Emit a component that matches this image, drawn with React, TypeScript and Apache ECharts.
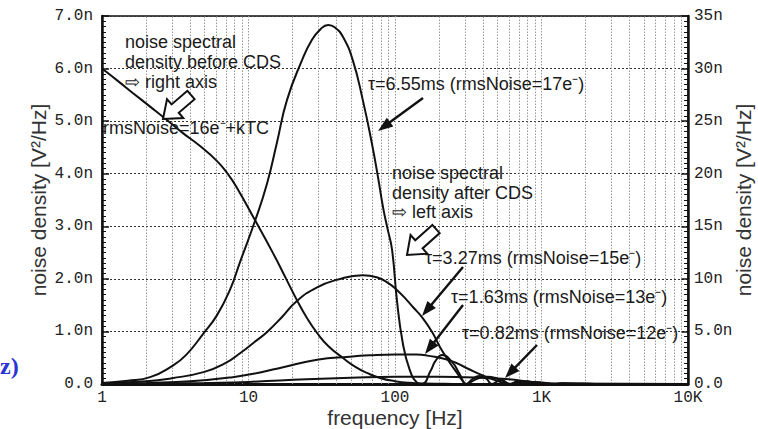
import React, { useEffect, useRef } from "react";
import * as echarts from "echarts";

// ---- data ----
// before CDS (right axis, nV^2/Hz)
const freqBefore = [1, 1.3, 1.63, 2.13, 2.8, 3.57, 4.6, 6.1, 7.2, 8.35, 11.07, 14.7, 18, 21.4, 25, 29.4, 35, 44.2, 54, 64.4, 80, 100, 125, 160, 250, 400, 10000];
const valBefore = [30, 28.76, 27.66, 26.38, 25.06, 23.86, 22.7, 21.2, 20.0, 18.65, 15.59, 12.45, 10.05, 7.98, 6.3, 4.85, 3.62, 2.47, 1.6, 1.05, 0.55, 0.27, 0.11, 0.04, 0.01, 0, 0];

// tau = 6.55 ms (left axis)
const freqT655 = [1, 1.5, 2.13, 3, 3.74, 4.89, 6.1, 7.47, 8.75, 11.07, 13.4, 15.6, 18.3, 23.2, 27, 31, 35, 39, 44.2, 51.5, 60.3, 69.5, 76.5, 83, 89, 95.5, 103, 113, 126, 141, 153, 175, 190, 210, 245, 275, 306, 340, 375, 420, 458, 530, 611, 690, 763, 840, 916, 1200, 10000];
const valT655 = [0.02, 0.06, 0.13, 0.34, 0.55, 0.95, 1.31, 1.79, 2.32, 3.1, 3.82, 4.58, 5.4, 6.16, 6.54, 6.75, 6.83, 6.78, 6.6, 6.16, 5.4, 4.58, 3.94, 3.35, 2.95, 2.55, 1.6, 0.78, 0.27, 0.03, 0, 0.25, 0.45, 0.55, 0.42, 0.2, 0, 0.1, 0.15, 0.1, 0, 0.08, 0, 0.05, 0, 0.03, 0, 0.01, 0];

// tau = 3.27 ms (left axis)
const freqT327 = [1, 2, 3, 5, 7, 8.8, 11, 13.4, 17, 21.4, 29.4, 40, 60, 75, 90, 103, 120, 133, 155, 180, 203, 240, 265, 290, 306, 340, 380, 430, 480, 540, 612, 700, 800, 916, 1000, 1224, 1400, 1530, 10000];
const valT327 = [0.01, 0.05, 0.11, 0.23, 0.4, 0.59, 0.8, 0.99, 1.28, 1.58, 1.84, 1.98, 2.07, 2.03, 1.92, 1.79, 1.6, 1.46, 1.25, 0.98, 0.7, 0.38, 0.21, 0.06, 0, 0.06, 0.12, 0.14, 0.12, 0.06, 0, 0.04, 0.05, 0, 0.02, 0, 0.015, 0, 0];

// tau = 1.63 ms (left axis)
const freqT163 = [1, 2, 4, 7.8, 12, 17.2, 29.4, 49, 67, 100, 140, 166, 236, 310, 400, 500, 550, 613, 700, 850, 1000, 1226, 1500, 1840, 10000];
const valT163 = [0, 0.02, 0.05, 0.13, 0.22, 0.32, 0.46, 0.52, 0.545, 0.56, 0.56, 0.54, 0.45, 0.3, 0.16, 0.06, 0.02, 0, 0.02, 0.04, 0.03, 0, 0.01, 0, 0];

// tau = 0.82 ms (left axis)
const freqT082 = [1, 3, 5, 10, 25, 50, 100, 200, 300, 450, 600, 800, 1000, 1220, 1500, 1900, 2440, 10000];
const valT082 = [0, 0.01, 0.02, 0.04, 0.09, 0.12, 0.14, 0.14, 0.13, 0.11, 0.09, 0.05, 0.02, 0, 0.01, 0.01, 0, 0];

// minor vertical grid positions
const minorGridFreqs = [2, 3, 4, 5, 6, 7, 8, 9, 20, 30, 40, 50, 60, 70, 80, 90, 200, 300, 400, 500, 600, 700, 800, 900, 2000, 3000, 4000, 5000, 6000, 7000, 8000, 9000];

const xTickLabels: Record<number, string> = { 1: "1", 10: "10", 100: "100", 1000: "1K", 10000: "10K" };

const zip = (f: number[], v: number[]) => f.map((x, i) => [x, v[i]]);

const TXT = "#1a1a1a";
const SANS = "Liberation Sans, Arial, Helvetica, sans-serif";
const MONO = "Liberation Mono, Courier New, monospace";

function thinArrow(x1: number, y1: number, x2: number, y2: number) {
  const dx = x2 - x1, dy = y2 - y1;
  const len = Math.hypot(dx, dy);
  const ux = dx / len, uy = dy / len;
  const nx = -uy, ny = ux;
  const hl = 15, hw = 5.5;
  const bx = x2 - ux * hl, by = y2 - uy * hl;
  return [
    { type: "line", shape: { x1, y1, x2: bx + ux * 2, y2: by + uy * 2 }, style: { stroke: "#111", lineWidth: 2.4 }, z: 100 },
    { type: "polygon", shape: { points: [[x2, y2], [bx + nx * hw, by + ny * hw], [bx - nx * hw, by - ny * hw]] }, style: { fill: "#111" }, z: 100 },
  ];
}

function blockArrow(tx: number, ty: number, px: number, py: number) {
  const dx = px - tx, dy = py - ty;
  const len = Math.hypot(dx, dy);
  const ux = dx / len, uy = dy / len;
  const nx = -uy, ny = ux;
  const sw = 5.5, hw = 12.5, hl = 16;
  const kx = px - ux * hl, ky = py - uy * hl;
  const pts = [
    [tx + nx * sw, ty + ny * sw],
    [kx + nx * sw, ky + ny * sw],
    [kx + nx * hw, ky + ny * hw],
    [px, py],
    [kx - nx * hw, ky - ny * hw],
    [kx - nx * sw, ky - ny * sw],
    [tx - nx * sw, ty - ny * sw],
  ];
  return { type: "polygon", shape: { points: pts }, style: { fill: "#fff", stroke: "#111", lineWidth: 2 }, z: 100 };
}

function label(text: string, x: number, y: number, size = 18) {
  return { type: "text", x, y, z: 100, style: { text, fill: TXT, font: `${size}px ${SANS}`, align: "left", verticalAlign: "middle" } };
}

export default function App() {
  const ref = useRef<HTMLDivElement>(null);
  useEffect(() => {
    document.body.style.margin = "0";
    const chart = echarts.init(ref.current!, null, { renderer: "svg" });
    const lineSeries = (name: string, data: number[][], yAxisIndex = 0) => ({
      name,
      type: "line",
      data,
      yAxisIndex,
      showSymbol: false,
      smooth: 0.5,
      lineStyle: { color: "#111", width: 2 },
      z: 5,
    });
    const option: any = {
      animation: false,
      backgroundColor: "#fff",
      grid: { left: 102, right: 70, top: 16, bottom: 45, show: true, borderColor: "#111", borderWidth: 1.5, backgroundColor: "transparent" },
      xAxis: {
        type: "log",
        logBase: 10,
        min: 1,
        max: 10000,
        axisLine: { show: true, lineStyle: { color: "#111", width: 3 } },
        axisTick: { show: false },
        axisLabel: {
          formatter: (v: number) => xTickLabels[Math.round(v)] ?? "",
          color: "#222",
          fontFamily: MONO,
          fontSize: 16,
          margin: 6,
        },
        splitLine: { show: true, lineStyle: { color: "#999", type: [1.5, 1.5], width: 1 } },
      },
      yAxis: [
        {
          type: "value",
          min: 0,
          max: 7,
          interval: 1,
          position: "left",
          axisLine: { show: true, lineStyle: { color: "#111", width: 2.5 } },
          axisTick: { show: true, inside: true, length: 7, lineStyle: { color: "#111", width: 1.5 } },
          minorTick: { show: true, splitNumber: 10, length: 4, lineStyle: { color: "#111", width: 1 } },
          axisLabel: {
            formatter: (v: number) => (v === 0 ? "0.0" : v.toFixed(1) + "n"),
            color: "#222",
            fontFamily: MONO,
            fontSize: 16,
            margin: 9,
          },
          splitLine: { show: true, lineStyle: { color: "#333", type: [2, 2], width: 1 } },
        },
        {
          type: "value",
          min: 0,
          max: 35,
          interval: 5,
          position: "right",
          axisLine: { show: true, lineStyle: { color: "#111", width: 2.5 } },
          axisTick: { show: true, inside: true, length: 7, lineStyle: { color: "#111", width: 1.5 } },
          minorTick: { show: true, splitNumber: 10, length: 4, lineStyle: { color: "#111", width: 1 } },
          axisLabel: {
            formatter: (v: number) => (v === 0 ? "0.0" : v === 5 ? "5.0n" : v + "n"),
            color: "#222",
            fontFamily: MONO,
            fontSize: 16,
            margin: 6,
          },
          splitLine: { show: false },
        },
      ],
      series: [
        {
          name: "grid",
          type: "line",
          data: [[1, 0]],
          showSymbol: false,
          lineStyle: { opacity: 0 },
          silent: true,
          z: 1,
          markLine: {
            silent: true,
            symbol: "none",
            label: { show: false },
            lineStyle: { color: "#999", type: [1.5, 1.5], width: 1 },
            data: minorGridFreqs.map((f) => ({ xAxis: f })),
          },
        },
        lineSeries("before CDS", zip(freqBefore, valBefore), 1),
        lineSeries("tau 6.55ms", zip(freqT655, valT655)),
        lineSeries("tau 3.27ms", zip(freqT327, valT327)),
        lineSeries("tau 1.63ms", zip(freqT163, valT163)),
        lineSeries("tau 0.82ms", zip(freqT082, valT082)),
      ],
      graphic: [
        { type: "text", x: 0, y: 366, style: { text: "z)", fill: "#2a34d2", font: `bold 24px Liberation Serif, serif`, align: "left", verticalAlign: "middle" } },
        { type: "text", x: 38, y: 200, rotation: Math.PI / 2, style: { text: "noise density [V²/Hz]", fill: "#333", font: `21px ${SANS}`, align: "center", verticalAlign: "middle" } },
        { type: "text", x: 743, y: 200, rotation: Math.PI / 2, style: { text: "noise density [V²/Hz]", fill: "#333", font: `21px ${SANS}`, align: "center", verticalAlign: "middle" } },
        { type: "text", x: 395, y: 417, style: { text: "frequency [Hz]", fill: "#333", font: `21px ${SANS}`, align: "center", verticalAlign: "middle" } },
        label("noise spectral", 125, 42),
        label("density before CDS", 125, 62),
        label("⇨ right axis", 125, 82),
        label("rmsNoise=16e⁻+kTC", 103, 128),
        label("τ=6.55ms (rmsNoise=17e⁻)", 368, 84),
        label("noise spectral", 392, 173),
        label("density after CDS", 392, 193),
        label("⇨ left axis", 392, 212),
        label("τ=3.27ms (rmsNoise=15e⁻)", 425, 258),
        label("τ=1.63ms (rmsNoise=13e⁻)", 451, 297),
        label("τ=0.82ms (rmsNoise=12e⁻)", 462, 333),
        blockArrow(191, 95, 163, 119),
        blockArrow(436, 229, 407, 255),
        ...thinArrow(423, 98, 378, 131),
        ...thinArrow(463, 267, 422, 316),
        ...thinArrow(463, 305, 425, 354),
        ...thinArrow(537, 345, 505, 378),
      ],
    };
    chart.setOption(option);
    return () => chart.dispose();
  }, []);
  return <div ref={ref} style={{ position: "fixed", left: 0, top: 0, width: 758, height: 429 }} />;
}
